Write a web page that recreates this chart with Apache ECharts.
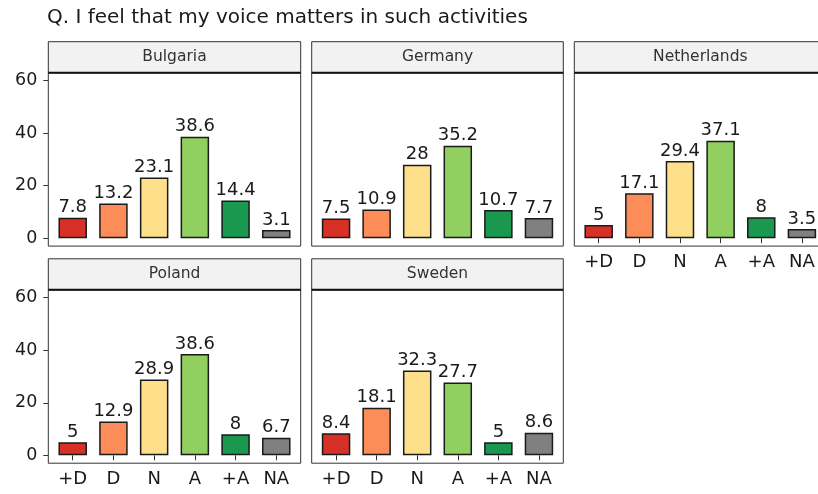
<!DOCTYPE html>
<html>
<head>
<meta charset="utf-8">
<script src="https://cdn.jsdelivr.net/npm/echarts@6/dist/echarts.min.js"></script>
<style>
  html, body { margin: 0; padding: 0; background: #fff; }
  #main { width: 818px; height: 494px; }
</style>
</head>
<body>
<div id="main"></div>
<script>
// answer categories
const categories = ['+D', 'D', 'N', 'A', '+A', 'NA']
// percent per country
const countries = ['Bulgaria', 'Germany', 'Netherlands', 'Poland', 'Sweden']
const bulgaria = [7.8, 13.2, 23.1, 38.6, 14.4, 3.1]
const germany = [7.5, 10.9, 28, 35.2, 10.7, 7.7]
const netherlands = [5, 17.1, 29.4, 37.1, 8, 3.5]
const poland = [5, 12.9, 28.9, 38.6, 8, 6.7]
const sweden = [8.4, 18.1, 32.3, 27.7, 5, 8.6]
const yTicks = [0, 20, 40, 60]
const barColors = ['#D73027', '#FC8D59', '#FEE08B', '#91CF60', '#1A9850', '#808080']

const values = [bulgaria, germany, netherlands, poland, sweden]

// panel layout (facet_wrap like, 3 columns) - last column runs past the picture edge
const panelLeft = [48.3, 311.7, 574.3, 48.3, 311.7]
const panelWidth = [252.4, 251.6, 252, 252.4, 251.6]
const panelTop = [72.7, 72.7, 72.7, 289.8, 289.8]
const panelHeight = 173.4
const stripH = 31
// which panels show axis labels
const showY = [true, false, false, true, false]
const showX = [false, false, true, true, true]

const font = 'DejaVu Sans'
const textColor = '#1a1a1a'

const grids = []
const xAxes = []
const yAxes = []
const series = []
const graphics = []

for (let i = 0; i < countries.length; i++) {
    grids.push({
        left: panelLeft[i],
        top: panelTop[i],
        width: panelWidth[i],
        height: panelHeight,
        //不要把grid挤进容器里
        outerBoundsMode: 'none',
        show: true,
        borderColor: '#333',
        borderWidth: 1,
        backgroundColor: '#fff'
    })
    xAxes.push({
        gridIndex: i,
        type: 'value',
        min: 0.4,
        max: 6.6,
        splitLine: { show: false },
        axisLine: { show: false },
        axisTick: {
            show: showX[i],
            customValues: [1, 2, 3, 4, 5, 6],
            length: 5,
            lineStyle: { color: '#333' }
        },
        axisLabel: {
            show: showX[i],
            customValues: [1, 2, 3, 4, 5, 6],
            formatter: v => categories[v - 1],
            fontFamily: font,
            fontSize: 18,
            color: textColor,
            margin: 7
        }
    })
    yAxes.push({
        gridIndex: i,
        type: 'value',
        min: -3,
        max: 63,
        splitLine: { show: false },
        axisLine: { show: false },
        axisTick: {
            show: showY[i],
            customValues: yTicks,
            length: 5,
            lineStyle: { color: '#333' }
        },
        axisLabel: {
            show: showY[i],
            customValues: yTicks,
            fontFamily: font,
            fontSize: 17.5,
            color: textColor,
            margin: 11
        }
    })
    series.push({
        type: 'bar',
        xAxisIndex: i,
        yAxisIndex: i,
        barWidth: 28.5,
        data: values[i].map((v, j) => ({
            value: [j + 1, v],
            itemStyle: { color: barColors[j] }
        })),
        itemStyle: { borderColor: '#1a1a1a', borderWidth: 1.5 },
        label: {
            show: true,
            position: 'top',
            distance: 1,
            formatter: p => String(p.value[1]),
            fontFamily: font,
            fontSize: 18,
            color: textColor
        }
    })
    // strip on top of each panel
    graphics.push({
        type: 'rect',
        shape: { x: panelLeft[i], y: panelTop[i] - stripH, width: panelWidth[i], height: stripH },
        style: { fill: '#F2F2F2', stroke: '#333', lineWidth: 1 }
    })
    graphics.push({
        type: 'line',
        shape: { x1: panelLeft[i], y1: panelTop[i], x2: panelLeft[i] + panelWidth[i], y2: panelTop[i] },
        style: { stroke: '#111', lineWidth: 2 }
    })
    graphics.push({
        type: 'text',
        x: panelLeft[i] + panelWidth[i] / 2,
        y: panelTop[i] - stripH / 2,
        style: {
            text: countries[i],
            fontFamily: font,
            fontSize: 15.5,
            fill: '#333',
            align: 'center',
            verticalAlign: 'middle'
        }
    })
}

const option = {
    animation: false,
    title: {
        text: 'Q. I feel that my voice matters in such activities',
        left: 42,
        top: 3,
        textStyle: { fontFamily: font, fontSize: 20, fontWeight: 'normal', color: textColor }
    },
    grid: grids,
    xAxis: xAxes,
    yAxis: yAxes,
    series: series,
    graphic: graphics
}

const chart = echarts.init(document.getElementById('main'))
chart.setOption(option)
</script>
</body>
</html>
